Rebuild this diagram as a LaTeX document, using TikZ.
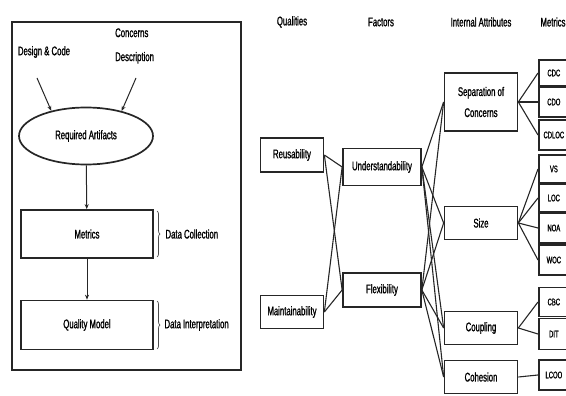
\documentclass[tikz,border=0pt]{standalone}
\usepackage{fontspec}
\setmainfont{Liberation Sans}[FakeStretch=0.62, FakeBold=1.2]
\usetikzlibrary{shapes.geometric,arrows.meta,decorations.pathreplacing}

\begin{document}
\begin{tikzpicture}[x=1pt,y=-1pt,
  every node/.style={font=\fontsize{12.5}{13}\selectfont, text=black},
  frame/.style={draw=black!85, line width=1.9pt},
  box/.style={draw=black!85, line width=1.7pt, inner sep=0pt, align=center},
  mbox/.style={draw=black!85, line width=1.7pt, inner sep=0pt, minimum width=30, font=\fontsize{9.5}{10}\selectfont},
  link/.style={draw=black!85, line width=1.1pt},
  flow/.style={draw=black!85, line width=1pt, -{Stealth[length=5pt,width=4pt]}},
  hdr/.style={font=\fontsize{12.5}{13}\selectfont},
  brc/.style={draw=black!70, line width=0.7pt, decorate, decoration={brace, amplitude=3pt}}]
\useasboundingbox (0,0) rectangle (566,396);

% ---------- process overview (left) ----------
\draw[frame] (12,22) rectangle (241,370);

\node (dc) at (44,52) {Design \& Code};
\node[align=left, anchor=west, inner sep=0pt] (cd) at (115,46) {Concerns\\[11pt]Description};
\coordinate (dcs) at (37,78);
\coordinate (cds) at (136,78);

\node[ellipse, draw=black!85, line width=1.7pt, minimum width=134, minimum height=57, inner sep=0pt]
  (ra) at (86,136) {Required Artifacts};
\node[box, minimum width=132, minimum height=48] (met) at (87,234) {Metrics};
\node[box, minimum width=132, minimum height=49] (qm) at (87,325) {Quality Model};

\draw[flow] (dcs) -- (ra.144);
\draw[flow] (cds) -- (ra.35);
\draw[flow] (ra) -- (met);
\draw[flow] (met) -- (qm);

\coordinate (b1t) at (157,211);
\coordinate (b1b) at (157,257);
\coordinate (b2t) at (157,301);
\coordinate (b2b) at (157,349);
\draw[brc] (b1t) -- (b1b);
\draw[brc] (b2t) -- (b2b);
\node[anchor=west] (dcol) at (162,234) {Data Collection};
\node[anchor=west] (dint) at (161,325) {Data Interpretation};

% ---------- quality model tree (right) ----------
\node[hdr] (hq) at (292,22) {Qualities};
\node[hdr] (hf) at (381,22) {Factors};
\node[hdr] (ha) at (481,22) {Internal Attributes};
\node[hdr] (hm) at (553,22) {Metrics};

% qualities
\node[box, minimum width=63, minimum height=34] (reu) at (292,155) {Reusability};
\node[box, minimum width=63, minimum height=33] (mai) at (292,312) {Maintainability};
% factors
\node[box, minimum width=78, minimum height=37] (und) at (382,167) {Understandability};
\node[box, minimum width=78, minimum height=34] (fle) at (382,290) {Flexibility};
% internal attributes
\node[box, minimum width=73, minimum height=58] (soc) at (481,102) {Separation of\\[8pt]Concerns};
\node[box, minimum width=73, minimum height=33] (siz) at (481,223) {Size};
\node[box, minimum width=73, minimum height=33] (cpl) at (481,328) {Coupling};
\node[box, minimum width=73, minimum height=33] (coh) at (481,377) {Cohesion};
% metrics
\node[mbox, minimum height=26, anchor=west] (cdc)  at (538,73)  {CDC};
\node[mbox, minimum height=30, anchor=west] (cdo)  at (538,102) {CDO};
\node[mbox, minimum height=30, anchor=west] (cdl)  at (538,135) {CDLOC};
\node[mbox, minimum height=28, anchor=west] (vs)   at (538,169) {VS};
\node[mbox, minimum height=28, anchor=west] (loc)  at (538,198) {LOC};
\node[mbox, minimum height=30, anchor=west] (noa)  at (538,228) {NOA};
\node[mbox, minimum height=30, anchor=west] (woc)  at (538,260) {WOC};
\node[mbox, minimum height=29, anchor=west] (cbc)  at (538,302) {CBC};
\node[mbox, minimum height=31, anchor=west] (dit)  at (538,334) {DIT};
\node[mbox, minimum height=30, anchor=west] (lco)  at (538,375) {LCOO};

% qualities -- factors
\foreach \q in {reu,mai}
  \foreach \f in {und,fle}
    \draw[link] (\q.east) -- (\f.west);
% factors -- internal attributes
\foreach \f in {und,fle}
  \foreach \a in {soc,siz,cpl,coh}
    \draw[link] (\f.east) -- (\a.west);
% internal attributes -- metrics
\foreach \m in {cdc,cdo,cdl} \draw[link] (soc.east) -- (\m.west);
\foreach \m in {vs,loc,noa,woc} \draw[link] (siz.east) -- (\m.west);
\foreach \m in {cbc,dit} \draw[link] (cpl.east) -- (\m.west);
\draw[link] (coh.east) -- (lco.west);
\end{tikzpicture}
\end{document}
